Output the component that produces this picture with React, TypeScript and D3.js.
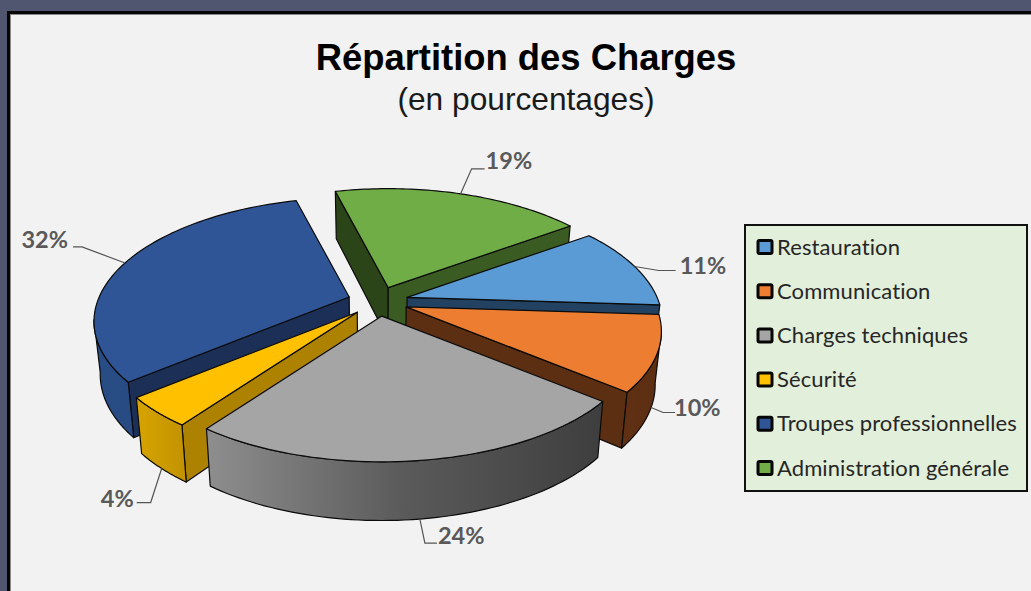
import React from "react";
import * as d3 from "d3";

const categories = ["Restauration", "Communication", "Charges techniques", "Sécurité", "Troupes professionnelles", "Administration générale"];
const shares = [11, 10, 24, 4, 32, 19];
const topColors = ["#5b9bd5", "#ed7d31", "#a5a5a5", "#ffc000", "#2f5597", "#70ad47"];
const startCutColors = ["#234160", "#5c2e12", "#4a4a4a", "#ad8200", "#1b2f57", "#2b4519"];
const endCutColors = ["#234160", "#5c2e12", "#4a4a4a", "#ad8200", "#1b2f57", "#3a5b22"];
const rimStops = [
  ["#3a6ea0", "#234160"],
  ["#5f3013", "#5c2e12"],
  ["#8e8e8e", "#5a5a5a", "#3e3e3e"],
  ["#d6a400", "#c49400"],
  ["#284c85", "#264675"],
  ["#3a5b22", "#2b4519"],
];
const leaderOffsets = [
  [[24, 4], [41, 4]],
  [[12, 5], [24, 5]],
  [[5, 24], [17, 24]],
  [[-11, 34], [-25, 34]],
  [[-43, -16], [-52, -16]],
  [[11, -25], [24, -25]],
];
const labelOffsets = [
  [45, -1],
  [23, 0],
  [18, 17],
  [-28, 30],
  [-57, -23],
  [25, -33],
];
const drawOrder = [5, 4, 0, 1, 3, 2];

const W = 1031;
const H = 591;
const CX = 378;
const CY = 301.5;
const RX0 = 250;
const RX1 = 50;
const RX2 = 12;
const Y_RATIO = 0.467;
const EXPLODE_X = 30.3;
const EXPLODE_Y = 14.7;
const DEPTH = 52;
const DEPTH_GROW = 0.042;
const BOTTOM_SHRINK = 0.978;
const SILHOUETTE = 0.19;

type P = [number, number];

const pieGen = d3
  .pie<number>()
  .sort(null)
  .value((d) => d)
  .startAngle((54 * Math.PI) / 180)
  .endAngle((414 * Math.PI) / 180);

const lineGen = d3.line<P>().x((d) => d[0]).y((d) => d[1]);
const closed = (pts: P[]) => (lineGen(pts) as string) + "Z";

const rimPoint = (apex: P, a: number): P => {
  const s = Math.sin(a);
  const r = RX0 + RX1 * s + RX2 * s * s;
  return [apex[0] + r * Math.cos(a), apex[1] + r * Y_RATIO * s];
};
const down = (p: P): P => [
  CX + (p[0] - CX) * BOTTOM_SHRINK,
  p[1] + DEPTH + DEPTH_GROW * (p[1] - CY),
];

const sampleRim = (apex: P, from: number, to: number): P[] =>
  d3.range(0, 61).map((k) => rimPoint(apex, from + ((to - from) * k) / 60));

const slices = pieGen(shares).map((arc, i) => {
  const a0 = arc.startAngle - Math.PI / 2;
  const a1 = arc.endAngle - Math.PI / 2;
  const mid = (a0 + a1) / 2;
  const apex: P = [CX + EXPLODE_X * Math.cos(mid), CY + EXPLODE_Y * Math.sin(mid)];
  const rim = sampleRim(apex, a0, a1);
  const midRim = rimPoint(apex, mid);
  const anchor: P = Math.sin(mid) > 0.2 ? down(midRim) : midRim;
  // only the part of the outer wall that faces the viewer
  const visFrom = Math.max(a0, SILHOUETTE);
  const visTo = Math.min(a1, Math.PI - SILHOUETTE);
  const wall = visTo > visFrom ? sampleRim(apex, visFrom, visTo) : null;
  return { i, a0, a1, mid, apex, rim, anchor, wall };
});

const STROKE = "#0b0b0b";

export default function App() {
  return (
    <svg
      width={W}
      height={H}
      viewBox={`0 0 ${W} ${H}`}
      style={{ position: "absolute", left: 0, top: 0, display: "block" }}
    >
      <defs>
        {slices.map((s) => {
          const xs = s.rim.map((p) => p[0]);
          const stops = rimStops[s.i];
          return (
            <linearGradient
              key={s.i}
              id={`rim${s.i}`}
              gradientUnits="userSpaceOnUse"
              x1={d3.min(xs)}
              x2={d3.max(xs)}
              y1={0}
              y2={0}
            >
              {stops.map((c, k) => (
                <stop key={k} offset={k / (stops.length - 1)} stopColor={c} />
              ))}
            </linearGradient>
          );
        })}
      </defs>
      <rect x={0} y={0} width={W} height={H} fill="#50566f" />
      <rect x={7} y={11} width={W} height={H} fill="#050505" />
      <rect x={10} y={14} width={W} height={H} fill="#8a8a8a" />
      <rect x={11} y={15} width={W} height={H} fill="#f2f2f2" />

      <text x={526} y={69.5} textAnchor="middle" fontFamily="Liberation Sans" fontWeight="bold" fontSize={36.4} fill="#000">
        Répartition des Charges
      </text>
      <text x={526} y={109.5} textAnchor="middle" fontFamily="Liberation Sans" fontSize={31.7} fill="#1a1a1a">
        (en pourcentages)
      </text>

      {drawOrder.map((idx) => {
        const s = slices[idx];
        const first = s.rim[0];
        const last = s.rim[s.rim.length - 1];
        return (
          <g key={idx} stroke={STROKE} strokeWidth={1.2} strokeLinejoin="round">
            {Math.cos(s.a0) < 0 && (
              <path d={closed([s.apex, first, down(first), down(s.apex)])} fill={startCutColors[idx]} />
            )}
            {Math.cos(s.a1) > 0 && (
              <path d={closed([s.apex, last, down(last), down(s.apex)])} fill={endCutColors[idx]} />
            )}
            {s.wall && (
              <path d={closed([...s.wall, ...s.wall.map(down).reverse()])} fill={`url(#rim${idx})`} />
            )}
            <path d={closed([s.apex, ...s.rim])} fill={topColors[idx]} />
          </g>
        );
      })}

      {slices.map((s) => {
        const pts: P[] = [
          s.anchor,
          ...leaderOffsets[s.i].map((o) => [s.anchor[0] + o[0], s.anchor[1] + o[1]] as P),
        ];
        const lab = labelOffsets[s.i];
        const anchorMode = lab[0] < 0 ? "end" : "start";
        return (
          <g key={s.i}>
            <path d={lineGen(pts) as string} fill="none" stroke="#555" strokeWidth={1.2} />
            <text
              x={s.anchor[0] + lab[0]}
              y={s.anchor[1] + lab[1] + 8}
              textAnchor={anchorMode}
              fontFamily="Lato"
              fontWeight="bold"
              fontSize={23.5}
              fill="#595959"
            >
              {shares[s.i]}%
            </text>
          </g>
        );
      })}

      <rect x={745} y={225} width={282} height={266} fill="#e2efda" stroke="#111" strokeWidth={2} />
      {categories.map((c, i) => {
        const y = 247 + i * 44.2;
        return (
          <g key={c}>
            <rect x={758} y={y - 6.5} width={14} height={13} rx={1.5} fill={topColors[i]} stroke="#050505" strokeWidth={3} />
            <text x={777} y={y + 7.5} fontFamily="Lato" fontSize={22} letterSpacing={0.1} fill="#262626">
              {c}
            </text>
          </g>
        );
      })}
    </svg>
  );
}
